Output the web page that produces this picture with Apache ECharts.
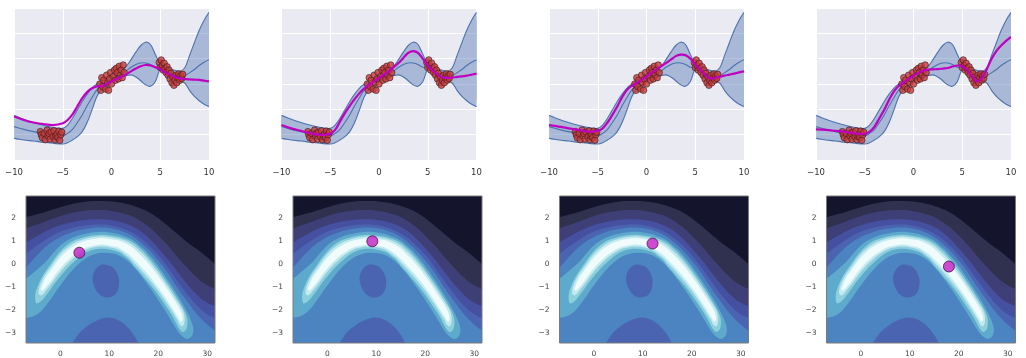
<!DOCTYPE html>
<html><head><meta charset="utf-8">
<script src="https://cdn.jsdelivr.net/npm/echarts@6/dist/echarts.min.js"></script>
<style>html,body{margin:0;padding:0;background:#fff}#c{width:1026px;height:358px}</style>
</head><body><div id="c"></div>
<script>
// ---------- top row: GP regression ----------
const xs = [-10,-9,-8,-7,-6,-5,-4.5,-4,-3.5,-3,-2.5,-2,-1.5,-1,-0.5,0,0.5,1,1.5,2,2.5,3,3.5,4,4.5,5,5.5,6,6.5,7,7.5,8,8.5,9,9.5,10];
const gpUpper = [-1.24,-1.39,-1.52,-1.63,-1.72,-1.75, -1.62,-1.35,-1.02,-0.69,-0.40,-0.16,0.0,0.11,0.21,0.30, 0.41,0.54,0.70,0.96,1.26,1.52,1.65,1.56,1.16,0.79, 0.67,0.59,0.54,0.50,0.63,1.12,1.63,2.12,2.52,2.82];
const gpLower = [-2.14,-2.21,-2.25,-2.30,-2.34,-2.37, -2.32,-2.21,-2.08,-1.88,-1.52,-1.02,-0.49,-0.20,-0.03,0.09, 0.17,0.26,0.33,0.36,0.28,0.13,-0.03,-0.09,0.10,0.57, 0.44,0.24,0.13,0.10,0.04,-0.25,-0.49,-0.66,-0.80,-0.89];
const gpMean = [-1.68,-1.79,-1.88,-1.95,-2.01,-2.04, -1.95,-1.79,-1.52,-1.22,-0.86,-0.53,-0.23,-0.05,0.08,0.20, 0.29,0.38,0.51,0.66,0.77,0.83,0.83,0.77,0.66,0.66, 0.54,0.41,0.33,0.30,0.33,0.44,0.57,0.73,0.86,0.96];
const sample1 = [-1.28,-1.42,-1.52,-1.58,-1.62,-1.55, -1.42,-1.2,-0.88,-0.56,-0.32,-0.17,-0.1,-0.09,0.0,0.10, 0.20,0.28,0.38,0.50,0.61,0.70,0.75,0.73,0.66,0.57, 0.46,0.36,0.28,0.22,0.20,0.18,0.17,0.16,0.13,0.10];
const sample2 = [-1.62,-1.75,-1.85,-1.95,-2.01,-1.97, -1.81,-1.48,-1.15,-0.86,-0.60,-0.36,-0.17,-0.03,0.10,0.24, 0.37,0.50,0.66,0.83,1.03,1.23,1.30,1.23,0.99,0.73, 0.54,0.37,0.26,0.24,0.25,0.28,0.30,0.33,0.37,0.41];
const sample3 = [-1.62,-1.68,-1.75,-1.81,-1.88,-1.85, -1.75,-1.52,-1.22,-0.89,-0.52,-0.23,-0.07,0.04,0.17,0.30, 0.44,0.57,0.70,0.83,0.96,1.10,1.16,1.14,1.00,0.77, 0.57,0.37,0.22,0.24,0.28,0.33,0.37,0.41,0.46,0.50];
const sample4 = [-1.79,-1.81,-1.85,-1.89,-1.95,-1.97, -1.88,-1.68,-1.35,-1.02,-0.62,-0.29,-0.07,0.07,0.20,0.33, 0.44,0.53,0.57,0.58,0.59,0.61,0.63,0.69,0.73,0.70, 0.54,0.30,0.10,0.24,0.57,0.99,1.30,1.52,1.70,1.86];
const obsA = [[-7.3,-1.88],[-7.2,-2.0],[-7.1,-2.12],[-6.9,-1.95],[-6.8,-2.2],[-6.6,-1.82],[-6.5,-2.05],[-6.4,-1.95],[-6.3,-2.18],[-6.2,-1.9],[-6.0,-2.08],[-5.9,-1.85],[-5.8,-2.2],[-5.7,-2.05],[-5.6,-1.98],[-5.5,-2.12],[-5.4,-1.86],[-5.3,-2.22],[-5.2,-2.0],[-5.1,-1.9]];
const obsB = [[-1.2,0.0],[-1.1,-0.25],[-1.0,0.25],[-0.9,-0.1],[-0.8,0.15],[-0.6,-0.2],[-0.5,0.35],[-0.4,0.05],[-0.3,-0.25],[-0.2,0.2],[-0.1,0.45],[0.0,0.0],[0.2,0.3],[0.3,0.55],[0.4,0.15],[0.5,0.62],[0.6,0.45],[0.7,0.2],[0.8,0.7],[0.9,0.35],[1.0,0.55],[1.1,0.25],[1.2,0.75],[1.3,0.45]];
const obsC = [[4.9,0.85],[5.0,0.65],[5.1,0.95],[5.2,0.72],[5.3,0.55],[5.4,0.82],[5.5,0.62],[5.6,0.45],[5.7,0.68],[5.8,0.35],[5.9,0.55],[6.0,0.2],[6.1,0.42],[6.2,0.05],[6.3,0.28],[6.4,-0.05],[6.5,0.15],[6.6,0.35],[6.7,0.05],[6.8,0.25],[6.9,0.4],[7.0,0.15],[7.1,0.32],[7.2,0.22],[7.3,0.38]];
const topXTicks = [-10,-5,0,5,10];

// ---------- bottom row: filled contours ----------
const XMIN = -7, XMAX = 31.6, YMIN = -3.43, YMAX = 2.97;
const botXTicks = [0,10,20,30];
const botYTicks = [-3,-2,-1,0,1,2];
const levelColors = ['#14142c','#30304f','#3f3f78','#4650a0','#4a64b2','#4b84c0','#5eaacd','#8dd0dc','#c4e9f0','#f0fbfb'];
const cBg  = [[-8,4],[33,4]];
const c12 = [[-7.5,2.0],[-7,2.05],[-4,2.22],[-1,2.42],[2,2.6],[5,2.72],[8,2.75],[11,2.72],[14,2.6],[17,2.38],[19.5,2.08],[21.7,1.72],[24,1.3],[26,0.95],[28,0.64],[30,0.3],[32,-0.08]];
const c23 = [[-7.5,1.48],[-7,1.55],[-4,1.78],[-1,2.02],[2,2.22],[5,2.33],[8,2.36],[11,2.3],[14,2.14],[16,1.94],[18,1.64],[20,1.25],[22,0.8],[24,0.3],[26,-0.18],[28,-0.6],[30,-0.92],[32,-1.12]];
const c34 = [[-7.5,0.88],[-7,0.95],[-4,1.32],[-1,1.62],[2,1.82],[5,1.93],[8,1.96],[11,1.9],[14,1.72],[16,1.5],[18,1.15],[20,0.7],[22,0.2],[24,-0.35],[26,-0.88],[28,-1.35],[30,-1.68],[32,-1.85]];
const c45 = [[-7.5,0.38],[-7,0.45],[-4,0.92],[-1,1.32],[2,1.56],[5,1.69],[8,1.73],[11,1.66],[14,1.45],[16,1.2],[18,0.85],[20,0.4],[22,-0.15],[24,-0.75],[26,-1.32],[28,-1.82],[30,-2.18],[32,-2.38]];
const c56 = [[-7.5,-0.25],[-7,-0.15],[-4,0.55],[-1,1.06],[2,1.36],[5,1.53],[8,1.6],[11,1.53],[14,1.3],[16,1.02],[18,0.64],[20,0.16],[22,-0.4],[24,-1.05],[26,-1.65],[28,-2.2],[30,-2.62],[32,-2.95]];
const blobMid = [[9.3,-0.02],[10.8,-0.15],[11.8,-0.5],[12.0,-0.9],[11.3,-1.3],[9.8,-1.45],[8.2,-1.35],[7.0,-1.0],[6.6,-0.55],[7.3,-0.2],[8.3,-0.03]];
const blobLow = [[2.0,-3.9],[3.5,-3.1],[5.5,-2.7],[7.5,-2.45],[9.8,-2.32],[12,-2.45],[14,-2.8],[15.6,-3.3],[16.5,-3.9]];
const band7 = [[-7.8,-0.72],[-7,-0.62],[-5,-0.28],[-4,-0.1],[-3,0.1],[-2,0.35],[-1,0.6],[0,0.82],[1,0.98],[2,1.1],[3,1.2],[4,1.27],[5,1.32],[6,1.36],[7,1.39],[8,1.41],[9,1.41],[10,1.38],[11,1.35],[12,1.3],[13,1.22],[14,1.14],[15,1.02],[16,0.85],[17,0.67],[18,0.45],[19,0.2],[20,-0.08],[21,-0.38],[22,-0.7],[23,-1.02],[24,-1.36],[25,-1.72],[26,-2.12],[26.8,-2.5],[27.2,-2.85],[26.8,-3.15],[25.8,-3.25],[24.5,-3.05],
  [23.5,-2.75],[22.5,-2.4],[21.5,-2.05],[20.5,-1.72],[19.5,-1.4],[18.5,-1.08],[17.5,-0.78],[16.5,-0.5],[15.5,-0.24],[14.5,0.0],[13.5,0.18],[12.5,0.32],[11.5,0.42],[10.5,0.48],[9.5,0.5],[8.5,0.5],[7.5,0.47],[6.5,0.4],[5.5,0.3],[4.5,0.15],[3.5,-0.03],[2.5,-0.25],[1.5,-0.5],[0.5,-0.78],[-0.5,-1.07],[-1.5,-1.38],[-2.5,-1.68],[-3.5,-1.95],[-4.5,-2.15],[-5.5,-2.27],[-7,-2.33],[-7.8,-2.33]];
const band8 = [[-3.6,-0.5],[-3,-0.31],[-2,0.0],[-1,0.3],[0,0.56],[1,0.77],[2,0.93],[3,1.05],[4,1.12],[5,1.18],[6,1.23],[7,1.26],[8,1.28],[9,1.28],[10,1.25],[11,1.22],[12,1.19],[13,1.12],[14,1.04],[15,0.92],[16,0.75],[17,0.55],[18,0.31],[19,0.05],[20,-0.23],[21,-0.53],[22,-0.85],[23,-1.18],[24,-1.52],[25,-1.9],[25.9,-2.35],[25.8,-2.8],[25.0,-2.95],[24.2,-2.78],
  [23,-2.3],[22,-1.96],[21,-1.64],[20,-1.34],[19,-1.06],[18,-0.8],[17,-0.56],[16,-0.3],[15,-0.07],[14,0.2],[13,0.37],[12,0.52],[11,0.59],[10,0.64],[9,0.67],[8,0.67],[7,0.64],[6,0.58],[5,0.48],[4,0.33],[3,0.14],[2,-0.06],[1,-0.28],[0,-0.53],[-1,-0.8],[-2,-1.1],[-3,-1.38],[-4,-1.62],[-4.9,-1.7],[-5.1,-1.3],[-4.4,-0.85]];
const band9 = [[-4.2,-0.95],[-3,-0.43],[-2,-0.13],[-1,0.17],[0,0.44],[1,0.65],[2,0.82],[3,0.95],[4,1.03],[5,1.1],[6,1.15],[7,1.18],[8,1.21],[9,1.21],[10,1.18],[11,1.15],[12,1.11],[13,1.04],[14,0.95],[15,0.81],[16,0.62],[17,0.42],[18,0.18],[19,-0.08],[20,-0.36],[21,-0.66],[22,-0.98],[23,-1.31],[24,-1.65],[25.1,-2.05],[25.4,-2.45],[25.0,-2.7],[24.3,-2.6],
  [24,-2.45],[23,-2.11],[22,-1.78],[21,-1.46],[20,-1.16],[19,-0.88],[18,-0.62],[17,-0.38],[16,-0.14],[15,0.08],[14,0.3],[13,0.47],[12,0.61],[11,0.69],[10,0.74],[9,0.77],[8,0.77],[7,0.74],[6,0.69],[5,0.6],[4,0.47],[3,0.31],[2,0.12],[1,-0.09],[0,-0.34],[-1,-0.61],[-2,-0.91],[-3,-1.17],[-3.8,-1.35],[-4.4,-1.3]];
const band10 = [[-3.8,-0.98],[-3,-0.58],[-2,-0.28],[-1,0.02],[0,0.29],[1,0.51],[2,0.69],[3,0.83],[4,0.93],[5,1.01],[6,1.07],[7,1.1],[8,1.13],[9,1.13],[10,1.1],[11,1.07],[12,1.03],[13,0.94],[14,0.84],[15,0.68],[16,0.48],[17,0.27],[18,0.03],[19,-0.23],[20,-0.51],[21,-0.81],[22,-1.13],[23,-1.46],[24,-1.8],[24.8,-2.15],[25.0,-2.42],[24.6,-2.5],
  [24,-2.3],[23,-1.96],[22,-1.63],[21,-1.31],[20,-1.01],[19,-0.73],[18,-0.47],[17,-0.23],[16,0.0],[15,0.22],[14,0.42],[13,0.58],[12,0.71],[11,0.77],[10,0.82],[9,0.85],[8,0.85],[7,0.82],[6,0.77],[5,0.69],[4,0.57],[3,0.43],[2,0.25],[1,0.05],[0,-0.19],[-1,-0.46],[-2,-0.76],[-3,-1.02],[-3.7,-1.15],[-4.0,-1.08]];
const markerPts = [[3.9,0.5],[9.2,1.0],[12.0,0.9],[18.0,-0.1]];

// ---------- build option ----------
const FONT = 'DejaVu Sans';
const minus = v => (v < 0 ? '\u2212' + Math.abs(v) : String(v));
const samples = [sample1, sample2, sample3, sample4];
const topLefts = [14, 281.5, 549, 816];
const botLefts = [26, 293, 559.5, 826.5];
const grid = [], xAxis = [], yAxis = [], series = [];
const obs = obsA.concat(obsB, obsC);
const SM = 0.35;

function bandRender(params, api) {
  const up = xs.map((x, k) => api.coord([x, gpUpper[k]]));
  const lo = xs.map((x, k) => api.coord([x, gpLower[k]]));
  return {type: 'group', children: [
    {type: 'polygon', shape: {points: up.concat(lo.slice().reverse()), smooth: SM}, style: {fill: 'rgba(76,114,176,0.42)'}, silent: true},
    {type: 'polyline', shape: {points: up, smooth: SM}, style: {stroke: '#4c72b0', lineWidth: 1.1, fill: null}, silent: true},
    {type: 'polyline', shape: {points: lo, smooth: SM}, style: {stroke: '#4c72b0', lineWidth: 1.1, fill: null}, silent: true}
  ]};
}
function lineRender(arr, color, width) {
  return function (params, api) {
    return {type: 'polyline', shape: {points: xs.map((x, k) => api.coord([x, arr[k]])), smooth: SM},
      style: {stroke: color, lineWidth: width, fill: null}, silent: true};
  };
}

topLefts.forEach((L, i) => {
  grid.push({left: L, top: 8, width: 195, height: 152, show: true, backgroundColor: '#EAEAF2', borderWidth: 0});
  xAxis.push({gridIndex: i, type: 'value', min: topXTicks[0], max: topXTicks[topXTicks.length-1], interval: 5,
    axisLine: {show: false}, axisTick: {show: false},
    splitLine: {show: true, lineStyle: {color: '#ffffff', width: 1}},
    axisLabel: {fontFamily: FONT, fontSize: 8.5, color: '#333', margin: 8, formatter: minus}});
  yAxis.push({gridIndex: i, type: 'value', min: -3, max: 3, interval: 1,
    axisLine: {show: false}, axisTick: {show: false}, axisLabel: {show: false},
    splitLine: {show: true, lineStyle: {color: '#ffffff', width: 1}}});
  const cbase = {xAxisIndex: i, yAxisIndex: i, type: 'custom', clip: true, silent: true, animation: false, data: [[0, 0]]};
  series.push(Object.assign({}, cbase, {z: 2, renderItem: bandRender}));
  series.push(Object.assign({}, cbase, {z: 2, renderItem: lineRender(gpMean, '#4c72b0', 1.1)}));
  series.push({xAxisIndex: i, yAxisIndex: i, type: 'scatter', data: obs, symbolSize: 6.5, silent: true, animation: false, z: 3,
    itemStyle: {color: '#c8393b', borderColor: '#3a2020', borderWidth: 0.8}});
  series.push(Object.assign({}, cbase, {z: 4, renderItem: lineRender(samples[i], '#c000c0', 2.2)}));
});

const curves = [cBg, c12, c23, c34, c45, c56];
const bands = [blobMid, blobLow, band7, band8, band9, band10];
const bandColors = [levelColors[4], levelColors[4], levelColors[6], levelColors[7], levelColors[8], levelColors[9]];
function polyRender(params, api) {
  const k = params.dataIndex;
  return {type: 'polygon', shape: {points: bands[k].map(p => api.coord(p)), smooth: 0.35},
    style: {fill: bandColors[k]}, z2: 10 + k, silent: true};
}
botLefts.forEach((L, j) => {
  const i = j + 4;
  grid.push({left: L, top: 196, width: 189, height: 148, show: true, backgroundColor: 'transparent',
    borderColor: '#7a7a7a', borderWidth: 1, z: 10});
  xAxis.push({gridIndex: i, type: 'value', min: XMIN, max: XMAX,
    axisLine: {show: false}, axisTick: {show: false}, splitLine: {show: false},
    axisLabel: {customValues: botXTicks, fontFamily: FONT, fontSize: 7.5, color: '#444', margin: 7, formatter: minus}});
  yAxis.push({gridIndex: i, type: 'value', min: YMIN, max: YMAX,
    axisLine: {show: false}, axisTick: {show: false}, splitLine: {show: false},
    axisLabel: {customValues: botYTicks, fontFamily: FONT, fontSize: 7.5, color: '#444', margin: 10, formatter: minus}});
  curves.forEach((c, k) => {
    series.push({xAxisIndex: i, yAxisIndex: i, type: 'line', data: c, symbol: 'none', smooth: 0.4, silent: true,
      animation: false, clip: true, z: 1, lineStyle: {width: 0},
      areaStyle: {color: levelColors[k], opacity: 1, origin: 'start'}});
  });
  series.push({xAxisIndex: i, yAxisIndex: i, type: 'custom', clip: true, silent: true, animation: false, z: 3,
    data: bands.map((b, k) => [k, 0]), renderItem: polyRender});
  series.push({xAxisIndex: i, yAxisIndex: i, type: 'scatter', data: [markerPts[j]], symbolSize: 11, silent: true,
    animation: false, z: 5, itemStyle: {color: '#c41fc4', borderColor: '#4a124a', borderWidth: 1}});
});

const chart = echarts.init(document.getElementById('c'), null, {renderer: 'canvas'});
chart.setOption({animation: false, grid, xAxis, yAxis, series});
</script>
</body></html>
